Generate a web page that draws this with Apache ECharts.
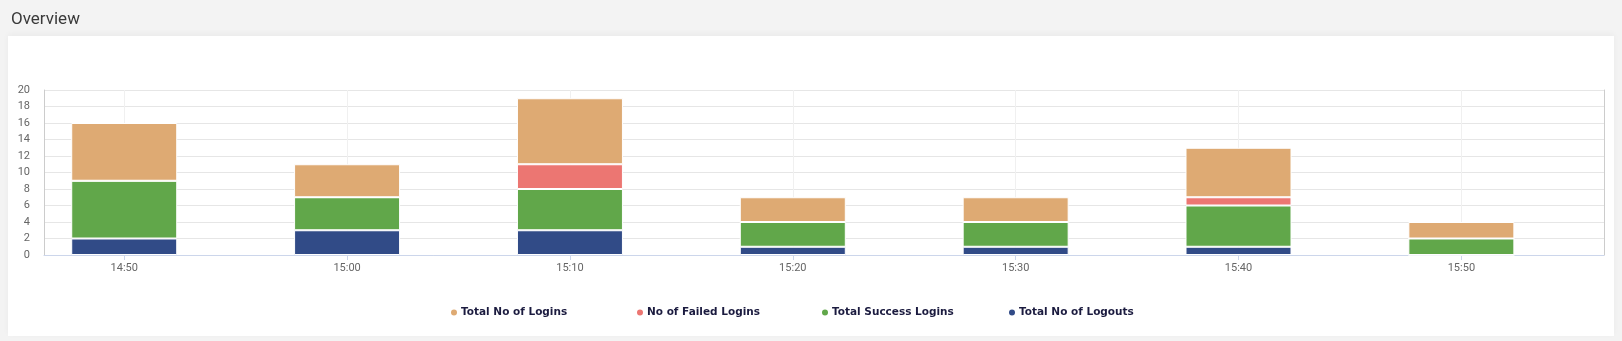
<!DOCTYPE html>
<html>
<head>
<meta charset="utf-8">
<script src="https://cdn.jsdelivr.net/npm/echarts@6/dist/echarts.min.js"></script>
<style>
  html, body { margin: 0; padding: 0; background: #f3f3f3; }
  #card { position: absolute; left: 8px; top: 36px; width: 1606px; height: 300px; background: #fff; box-shadow: 0 -2px 6px rgba(0,0,0,0.04); }
  #chart { position: absolute; left: 0; top: 0; width: 1622px; height: 341px; }
</style>
</head>
<body>
<div id="card"></div>
<div id="chart"></div>
<script>
const categories = ['14:50', '15:00', '15:10', '15:20', '15:30', '15:40', '15:50'];
const totalLogins = [7, 4, 8, 3, 3, 6, 2];
const failedLogins = [0, 0, 3, 0, 0, 1, 0];
const successLogins = [7, 4, 5, 3, 3, 5, 2];
const totalLogouts = [2, 3, 3, 1, 1, 1, 0];
const yTicks = { min: 0, max: 20, interval: 2 };
const xRange = { min: '14:46.4', max: '15:56.4' };
const names = ['Total No of Logins', 'No of Failed Logins', 'Total Success Logins', 'Total No of Logouts'];
const colors = ['#DEAA73', '#EC7672', '#61A74A', '#314B87'];

const toMin = (s) => { const [h, m] = s.split(':'); return (+h) * 60 + parseFloat(m); };
const fmt = (v) => { const h = Math.floor(v / 60), m = Math.round(v - h * 60); return h + ':' + String(m).padStart(2, '0'); };
const xs = categories.map(toMin);

const chart = echarts.init(document.getElementById('chart'), null, { renderer: 'canvas' });
// value first, time second, so the stack is applied to the value dimension
const mk = (name, arr, c) => ({
  name, type: 'bar', stack: 'all', barWidth: 106,
  encode: { x: 1, y: 0 },
  data: arr.map((v, i) => [v, xs[i]]),
  itemStyle: { color: c, borderColor: '#ffffff', borderWidth: 1 },
  emphasis: { disabled: true }
});
const legendLefts = [444, 630, 815, 1002];

chart.setOption({
  animation: false,
  title: {
    text: 'Overview', left: 6, top: 6,
    textStyle: { fontFamily: 'Roboto', fontSize: 17, fontWeight: 'normal', color: '#3a3a3a' }
  },
  legend: names.map((n, i) => ({
    data: [n], top: 302, left: legendLefts[i],
    icon: 'circle', itemWidth: 8, itemHeight: 8,
    textStyle: { fontFamily: 'DejaVu Sans', fontSize: 10.5, fontWeight: 'bold', color: '#1b1b3f', padding: [0, 0, 0, -2] }
  })),
  grid: { left: 44, right: 18, top: 90, bottom: 86, containLabel: false },
  xAxis: {
    type: 'value', min: toMin(xRange.min), max: toMin(xRange.max),
    axisLine: { onZero: false, lineStyle: { color: '#ccd6eb' } },
    axisTick: { length: 5, lineStyle: { color: '#ccd6eb' }, customValues: xs },
    axisLabel: { color: '#666', fontFamily: 'Roboto', fontSize: 11, margin: 8, customValues: xs, formatter: fmt },
    splitLine: { show: true, lineStyle: { color: '#f0f0f0' } }
  },
  yAxis: [{
    type: 'value', min: yTicks.min, max: yTicks.max, interval: yTicks.interval,
    axisLine: { show: true, lineStyle: { color: '#cccccc' } },
    axisTick: { show: false },
    axisLabel: { color: '#666', fontFamily: 'Roboto', fontSize: 11, margin: 14 },
    splitLine: { lineStyle: { color: '#e6e6e6' } }
  }, {
    type: 'value', position: 'right', min: yTicks.min, max: yTicks.max, interval: yTicks.interval,
    axisLine: { show: true, lineStyle: { color: '#cccccc' } },
    axisTick: { show: false }, axisLabel: { show: false }, splitLine: { show: false }
  }],
  series: [
    mk(names[3], totalLogouts, colors[3]),
    mk(names[2], successLogins, colors[2]),
    mk(names[1], failedLogins, colors[1]),
    mk(names[0], totalLogins, colors[0])
  ]
});
</script>
</body>
</html>
